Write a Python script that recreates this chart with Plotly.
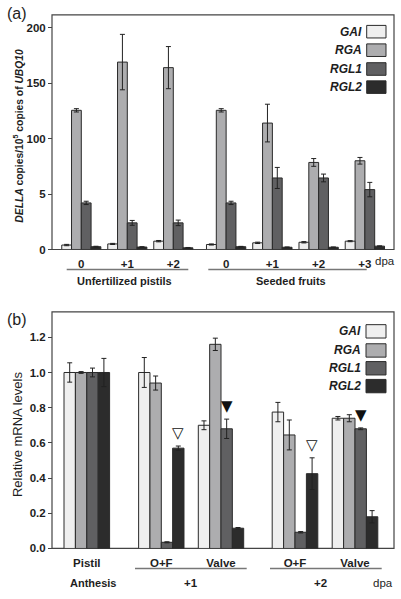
import plotly.graph_objects as go

# ---------------- data: panel (a) ----------------
a_cats_unf = ["0", "+1", "+2"]
a_cats_seed = ["0", "+1", "+2", "+3"]
genes = ["GAI", "RGA", "RGL1", "RGL2"]

a_GAI_unf = [0.4, 0.5, 0.75]
a_GAI_unf_err = [0.06, 0.05, 0.06]
a_RGA_unf = [125.5, 169, 164]
a_RGA_unf_err = [1.5, 25, 19]
a_RGL1_unf = [4.2, 2.4, 2.4]
a_RGL1_unf_err = [0.15, 0.22, 0.25]
a_RGL2_unf = [0.25, 0.22, 0.15]
a_RGL2_unf_err = [0.04, 0.03, 0.03]

a_GAI_seed = [0.45, 0.6, 0.65, 0.75]
a_GAI_seed_err = [0.05, 0.06, 0.06, 0.05]
a_RGA_seed = [125.5, 114, 78.5, 80]
a_RGA_seed_err = [1.5, 17, 3.5, 3]
a_RGL1_seed = [4.2, 6.45, 6.45, 5.4]
a_RGL1_seed_err = [0.15, 0.95, 0.35, 0.65]
a_RGL2_seed = [0.25, 0.2, 0.2, 0.3]
a_RGL2_seed_err = [0.03, 0.03, 0.03, 0.03]

# ---------------- data: panel (b) ----------------
b_cats_anthesis = ["Pistil"]
b_cats_d1 = ["O+F", "Valve"]
b_cats_d2 = ["O+F", "Valve"]

b_GAI_anthesis = [1.0]
b_GAI_anthesis_err = [0.055]
b_RGA_anthesis = [1.0]
b_RGA_anthesis_err = [0.005]
b_RGL1_anthesis = [1.0]
b_RGL1_anthesis_err = [0.025]
b_RGL2_anthesis = [1.0]
b_RGL2_anthesis_err = [0.08]

b_GAI_d1 = [1.0, 0.70]
b_GAI_d1_err = [0.085, 0.025]
b_RGA_d1 = [0.94, 1.16]
b_RGA_d1_err = [0.04, 0.035]
b_RGL1_d1 = [0.035, 0.68]
b_RGL1_d1_err = [0.003, 0.055]
b_RGL2_d1 = [0.57, 0.115]
b_RGL2_d1_err = [0.012, 0.004]

b_GAI_d2 = [0.775, 0.74]
b_GAI_d2_err = [0.055, 0.01]
b_RGA_d2 = [0.645, 0.74]
b_RGA_d2_err = [0.085, 0.02]
b_RGL1_d2 = [0.092, 0.68]
b_RGL1_d2_err = [0.004, 0.005]
b_RGL2_d2 = [0.425, 0.18]
b_RGL2_d2_err = [0.09, 0.035]

# significance markers: (dpa group, category, gene, kind)
b_marks = [("d1", "O+F", "RGL2", "open"), ("d1", "Valve", "RGL1", "filled"),
           ("d2", "O+F", "RGL2", "open"), ("d2", "Valve", "RGL1", "filled")]

a_yticks_rga = [100, 150, 200]
a_yticks_low = [0, 5]
b_yticks = [0.0, 0.2, 0.4, 0.6, 0.8, 1.0, 1.2]

# ---------------- styling ----------------
W, H = 401, 599
colors = {"GAI": "#efefef", "RGA": "#adadaf", "RGL1": "#606062", "RGL2": "#2c2c2c"}
EDGE = "#2a2a2a"
FONT = "Liberation Sans, Arial, sans-serif"
TXT = "#1e1e1e"
FS = 11.5


def px(x):
    return x / W


def py(y):
    return 1 - y / H


fig = go.Figure()

a_top, a_bot = 15, 252
a_left, a_right = 52, 394
a_ax_unf = (58.3, 196.3)
a_ax_seed = (203.0, 388.0)
a_scale_rga = 200 / (252 - 28)  # data units per px
a_rng_rga = [0, (a_bot - a_top) * a_scale_rga]
a_rng_low = [0, a_rng_rga[1] / 10]

b_top, b_bot = 315, 554
b_ax = {"anthesis": (56.8, 116.8), "d1": (131.45, 250.85), "d2": (265.0, 385.0)}
b_rng = [0, 1.2 * (b_bot - b_top) / (554 - 340.7)]

xcommon = dict(type="category", showline=False, showgrid=False, zeroline=False,
               ticks="", ticklabelstandoff=6,
               tickfont=dict(family=FONT, size=FS, color=TXT, weight="bold"))

fig.update_layout(
    xaxis=dict(domain=[px(a_ax_unf[0]), px(a_ax_unf[1])], anchor="y",
               categoryorder="array", categoryarray=a_cats_unf, **xcommon),
    xaxis3=dict(domain=[px(a_ax_seed[0]), px(a_ax_seed[1])], anchor="y",
                categoryorder="array", categoryarray=a_cats_seed, **xcommon),
    xaxis4=dict(domain=[px(b_ax["anthesis"][0]), px(b_ax["anthesis"][1])], anchor="y3",
                categoryorder="array", categoryarray=b_cats_anthesis, **xcommon),
    xaxis5=dict(domain=[px(b_ax["d1"][0]), px(b_ax["d1"][1])], anchor="y3",
                categoryorder="array", categoryarray=b_cats_d1, **xcommon),
    xaxis6=dict(domain=[px(b_ax["d2"][0]), px(b_ax["d2"][1])], anchor="y3",
                categoryorder="array", categoryarray=b_cats_d2, **xcommon),
)

ycommon = dict(showline=False, showgrid=False, zeroline=False, ticks="outside",
               ticklen=4, tickcolor="#444", tickwidth=1,
               tickfont=dict(family=FONT, size=FS, color=TXT, weight="bold"),
               anchor="free", position=px(a_left), side="left")

fig.update_layout(
    yaxis=dict(domain=[py(a_bot), py(a_top)], range=a_rng_rga,
               tickvals=a_yticks_rga, **ycommon),
    yaxis2=dict(domain=[py(a_bot), py(a_top)], range=a_rng_low, overlaying="y",
                tickvals=a_yticks_low, **ycommon),
    yaxis3=dict(domain=[py(b_bot), py(b_top)], range=b_rng,
                tickvals=b_yticks, tickformat=".1f", **ycommon),
)

# ---------- panel (a) bars ----------
a_bw = 0.2125
a_data = {
    "GAI": [(a_GAI_unf, a_GAI_unf_err), (a_GAI_seed, a_GAI_seed_err)],
    "RGA": [(a_RGA_unf, a_RGA_unf_err), (a_RGA_seed, a_RGA_seed_err)],
    "RGL1": [(a_RGL1_unf, a_RGL1_unf_err), (a_RGL1_seed, a_RGL1_seed_err)],
    "RGL2": [(a_RGL2_unf, a_RGL2_unf_err), (a_RGL2_seed, a_RGL2_seed_err)],
}
for i, g in enumerate(genes):
    yax = "y" if g == "RGA" else "y2"
    for (vals, errs), cats, xax in zip(a_data[g], [a_cats_unf, a_cats_seed], ["x", "x3"]):
        fig.add_trace(go.Bar(
            x=cats, y=vals, xaxis=xax, yaxis=yax, name=g, showlegend=False,
            width=a_bw, offset=-2 * a_bw + i * a_bw,
            marker=dict(color=colors[g], line=dict(color=EDGE, width=1)),
            error_y=dict(type="data", array=errs, color="#222", thickness=1, width=2.5),
        ))

# ---------- panel (b) bars ----------
b_bw = 0.19
b_data = {
    "GAI": {"anthesis": (b_GAI_anthesis, b_GAI_anthesis_err), "d1": (b_GAI_d1, b_GAI_d1_err), "d2": (b_GAI_d2, b_GAI_d2_err)},
    "RGA": {"anthesis": (b_RGA_anthesis, b_RGA_anthesis_err), "d1": (b_RGA_d1, b_RGA_d1_err), "d2": (b_RGA_d2, b_RGA_d2_err)},
    "RGL1": {"anthesis": (b_RGL1_anthesis, b_RGL1_anthesis_err), "d1": (b_RGL1_d1, b_RGL1_d1_err), "d2": (b_RGL1_d2, b_RGL1_d2_err)},
    "RGL2": {"anthesis": (b_RGL2_anthesis, b_RGL2_anthesis_err), "d1": (b_RGL2_d1, b_RGL2_d1_err), "d2": (b_RGL2_d2, b_RGL2_d2_err)},
}
b_cats = {"anthesis": b_cats_anthesis, "d1": b_cats_d1, "d2": b_cats_d2}
b_xax = {"anthesis": "x4", "d1": "x5", "d2": "x6"}
for i, g in enumerate(genes):
    for grp in ["anthesis", "d1", "d2"]:
        vals, errs = b_data[g][grp]
        fig.add_trace(go.Bar(
            x=b_cats[grp], y=vals, xaxis=b_xax[grp], yaxis="y3", name=g, showlegend=False,
            width=b_bw, offset=-2 * b_bw + i * b_bw,
            marker=dict(color=colors[g], line=dict(color=EDGE, width=1)),
            error_y=dict(type="data", array=errs, color="#222", thickness=1, width=2.5),
        ))

annotations = []
shapes = []

# significance triangles
for grp, cat, g, kind in b_marks:
    gi = genes.index(g)
    ci = b_cats[grp].index(cat)
    vals, errs = b_data[g][grp]
    cat_px = (b_ax[grp][1] - b_ax[grp][0]) / len(b_cats[grp])
    xshift = (-2 * b_bw + gi * b_bw + b_bw / 2) * cat_px
    annotations.append(dict(
        x=cat, y=vals[ci] + errs[ci], xref=b_xax[grp], yref="y3",
        text="▼" if kind == "filled" else "▽", showarrow=False,
        xshift=xshift, yshift=2, yanchor="bottom", xanchor="center",
        font=dict(family="DejaVu Sans", size=15, color="#111"),
    ))

# frames
for top, bot in [(a_top, a_bot), (b_top, b_bot)]:
    shapes.append(dict(type="rect", xref="paper", yref="paper",
                       x0=px(a_left), x1=px(a_right), y0=py(bot), y1=py(top),
                       line=dict(color="#444", width=1.2), fillcolor="rgba(0,0,0,0)", layer="below"))


def add_legend(centers_y, text_right, sw_x0, sw_x1, sw_h):
    for g, cy in zip(genes, centers_y):
        shapes.append(dict(type="rect", xref="paper", yref="paper",
                           x0=px(sw_x0), x1=px(sw_x1), y0=py(cy + sw_h / 2), y1=py(cy - sw_h / 2),
                           fillcolor=colors[g], line=dict(color=EDGE, width=1)))
        annotations.append(dict(x=px(text_right), y=py(cy), xref="paper", yref="paper",
                                text=f"<i>{g}</i>", showarrow=False, xanchor="right", yanchor="middle",
                                font=dict(family=FONT, size=12, color=TXT, weight="bold")))


add_legend([32, 50.7, 69.7, 88], 364, 366.7, 386, 12.7)
add_legend([334.7, 354, 372, 390], 363, 366, 386, 13.5)


def label(x, y, text, size=FS, bold=True, anchor="center", angle=0):
    annotations.append(dict(x=px(x), y=py(y), xref="paper", yref="paper", text=text,
                            showarrow=False, xanchor=anchor, yanchor="middle", textangle=angle,
                            font=dict(family=FONT, size=size, color=TXT,
                                      weight="bold" if bold else "normal")))


def hline(x0, x1, y):
    shapes.append(dict(type="line", xref="paper", yref="paper", x0=px(x0), x1=px(x1),
                       y0=py(y), y1=py(y), line=dict(color="#777", width=1.5)))


# panel letters
label(17, 14, "(a)", size=16, bold=False)
label(17, 323, "(b)", size=16, bold=False)

# y titles
label(18, 137, "<i>DELLA</i> copies/10<sup>5</sup> copies of <i>UBQ10</i>", size=10.3, bold=True, angle=-90)
label(17.5, 439, "Relative mRNA levels", size=13, bold=False, angle=-90)

# panel (a) group labels
label(385, 264, "dpa", bold=False)
hline(66.7, 188.3, 272.3)
hline(208.3, 366.7, 272.3)
label(124, 283.5, "Unfertilized pistils", size=11)
label(290.8, 283.5, "Seeded fruits", size=11)

# panel (b) group labels
hline(135, 246.7, 574.3)
hline(270, 381.7, 574.3)
label(92.5, 589, "Anthesis", size=11)
label(190.8, 589, "+1")
label(320.8, 589, "+2")
label(383.3, 589, "dpa", bold=False)

fig.update_layout(
    width=W, height=H, margin=dict(l=0, r=0, t=0, b=0),
    paper_bgcolor="white", plot_bgcolor="rgba(0,0,0,0)",
    barmode="overlay", showlegend=False,
    annotations=annotations, shapes=shapes,
)

fig.write_html("out.html", config={"displayModeBar": False},
               post_script="document.body.style.margin='0';document.body.style.overflow='hidden';")
